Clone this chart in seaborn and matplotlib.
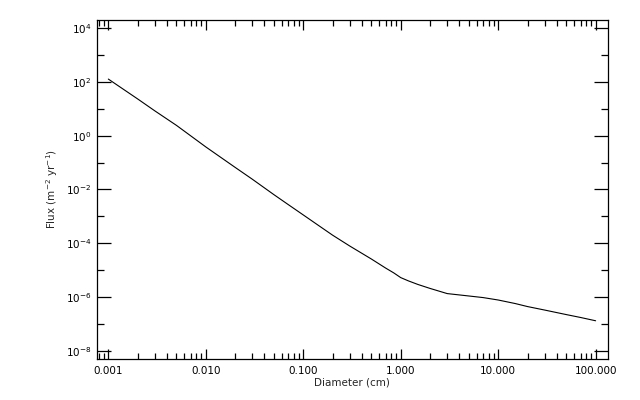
import numpy as np
import pandas as pd
import matplotlib
matplotlib.use("Agg")
import matplotlib.pyplot as plt
import matplotlib.ticker as mticker
import seaborn as sns

# Flux vs diameter
diameter_cm = [0.001, 0.002, 0.003, 0.005, 0.01, 0.02, 0.03, 0.05, 0.07, 0.1,
               0.15, 0.2, 0.3, 0.5, 0.7, 0.85, 1.0, 1.2, 1.5, 2.0, 3.0, 5.0,
               7.0, 10.0, 15.0, 20.0, 30.0, 50.0, 70.0, 100.0]
flux = [126.0, 23.0, 8.3, 2.4, 0.38, 0.066, 0.024, 6.4e-3, 2.75e-3, 1.13e-3,
        4.1e-4, 2.0e-4, 7.9e-5, 2.6e-5, 1.2e-5, 7.9e-6, 5.3e-6, 4.0e-6,
        2.95e-6, 2.1e-6, 1.35e-6, 1.1e-6, 9.6e-7, 7.8e-7, 5.75e-7, 4.45e-7,
        3.3e-7, 2.24e-7, 1.75e-7, 1.32e-7]

y_major = [1e-8, 1e-6, 1e-4, 1e-2, 1e0, 1e2, 1e4]
y_minor = [1e-7, 1e-5, 1e-3, 1e-1, 1e1, 1e3]

df = pd.DataFrame({"diameter": diameter_cm, "flux": flux})

sns.set_style("ticks")
plt.rcParams['font.family'] = ['DejaVu Sans']

fig = plt.figure(figsize=(6.4, 4.0), dpi=100)
ax = fig.add_axes([0.151, 0.1025, 0.799, 0.8485])

sns.lineplot(data=df, x="diameter", y="flux", ax=ax, color="black", linewidth=0.8)

ax.set_xscale("log")
ax.set_yscale("log")
ax.set_xlim(10 ** -3.12, 10 ** 2.127)
ax.set_ylim(10 ** -8.3, 10 ** 4.31)

ax.xaxis.set_major_locator(mticker.LogLocator(base=10))
ax.xaxis.set_minor_locator(mticker.LogLocator(base=10, subs=np.arange(2, 10)))
ax.xaxis.set_major_formatter(mticker.FormatStrFormatter("%.3f"))
ax.xaxis.set_minor_formatter(mticker.NullFormatter())

ax.yaxis.set_major_locator(mticker.FixedLocator(y_major))
ax.yaxis.set_minor_locator(mticker.FixedLocator(y_minor))
ax.yaxis.set_major_formatter(mticker.LogFormatterMathtext())
ax.yaxis.set_minor_formatter(mticker.NullFormatter())

ax.tick_params(axis="both", which="both", direction="in", top=True, right=True,
               colors="black", labelsize=7.5, width=0.9)
ax.tick_params(axis="x", which="major", length=7, pad=5)
ax.tick_params(axis="x", which="minor", length=4.5)
ax.tick_params(axis="y", which="major", length=10, pad=4)
ax.tick_params(axis="y", which="minor", length=5)

for sp in ax.spines.values():
    sp.set_visible(True)
    sp.set_color("black")
    sp.set_linewidth(0.9)

ax.set_xlabel("Diameter (cm)", fontsize=7.5, labelpad=1)
ax.set_ylabel("Flux (m$^{-2}$ yr$^{-1}$)", fontsize=7.5, labelpad=4)

fig.savefig("out.png", dpi=100)
